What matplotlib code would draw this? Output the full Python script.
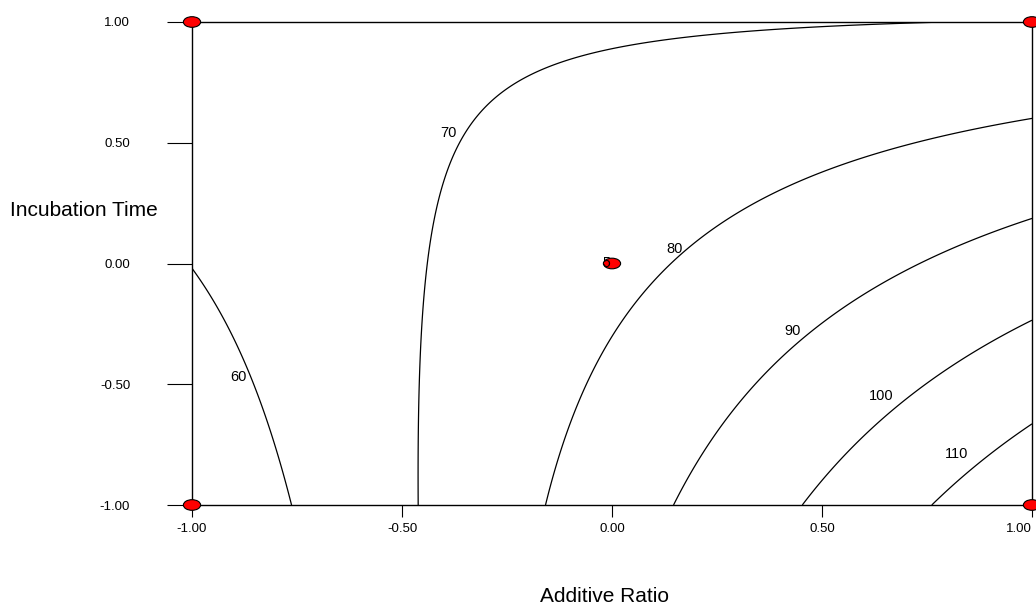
import numpy as np
import matplotlib
matplotlib.use("Agg")
import matplotlib.pyplot as plt
from matplotlib.patches import Ellipse

# Quadratic response-surface model coefficients (coded units)
# Y = b0 + b1*A + b2*B + b12*A*B + b11*A^2 + b22*B^2
coef_names = ["b0", "b1", "b2", "b12", "b11", "b22"]
coef_vals = [77.6, 17.15, -8.1, -15.65, -0.3, -0.5]
levels = [60, 70, 80, 90, 100, 110]
design_A = [-1, 1, -1, 1, 0]
design_B = [-1, -1, 1, 1, 0]
center_runs = "5"
x_ticks = [-1.0, -0.5, 0.0, 0.5, 1.0]
y_ticks = [-1.0, -0.5, 0.0, 0.5, 1.0]
x_label = "Additive Ratio"
y_label = "Incubation Time"
# label positions for contour values (data coords)
label_pos = {60: (-0.89, -0.47), 70: (-0.39, 0.54), 80: (0.15, 0.06),
             90: (0.43, -0.28), 100: (0.64, -0.55), 110: (0.82, -0.79)}

plt.rcParams['font.family'] = ['Liberation Sans', 'DejaVu Sans']

fig = plt.figure(figsize=(10.36, 6.06), dpi=100)
ax = fig.add_axes([192/1036, 1-505/606, (1032-192)/1036, (505-22)/606])

c = dict(zip(coef_names, coef_vals))
a = np.linspace(-1, 1, 401)
b = np.linspace(-1, 1, 401)
AA, BB = np.meshgrid(a, b)
Y = (c["b0"] + c["b1"]*AA + c["b2"]*BB + c["b12"]*AA*BB
     + c["b11"]*AA**2 + c["b22"]*BB**2)
ax.contour(AA, BB, Y, levels=levels, colors='black', linewidths=0.9)

for lv in levels:
    x, y = label_pos[lv]
    ax.text(x, y, str(lv), fontsize=10.5, ha='center', va='center')

for xa, yb in zip(design_A, design_B):
    e = Ellipse((xa, yb), width=0.041, height=0.044, facecolor='red',
                edgecolor='black', linewidth=0.8, clip_on=False, zorder=5)
    ax.add_patch(e)
ax.text(-0.005, 0.003, center_runs, fontsize=10, ha='right', va='center', zorder=6)

ax.set_xlim(-1, 1)
ax.set_ylim(-1, 1)
ax.set_xticks(x_ticks)
ax.set_yticks(y_ticks)
ax.set_xticklabels([f"{v:.2f}" for v in x_ticks], fontsize=9.5)
ax.set_yticklabels([f"{v:.2f}" for v in y_ticks], fontsize=9.5)
ax.get_xticklabels()[-1].set_ha('right')
ax.tick_params(axis='y', length=18, width=0.8, pad=26.5)
ax.tick_params(axis='x', length=8.6, width=0.8, pad=4)
for s in ax.spines.values():
    s.set_linewidth(1.0)

fig.text(605/1036, 1-597/606, x_label, fontsize=15, ha='center', va='center')
fig.text(84/1036, 1-211/606, y_label, fontsize=15, ha='center', va='center')

fig.savefig("out.png", dpi=100)
